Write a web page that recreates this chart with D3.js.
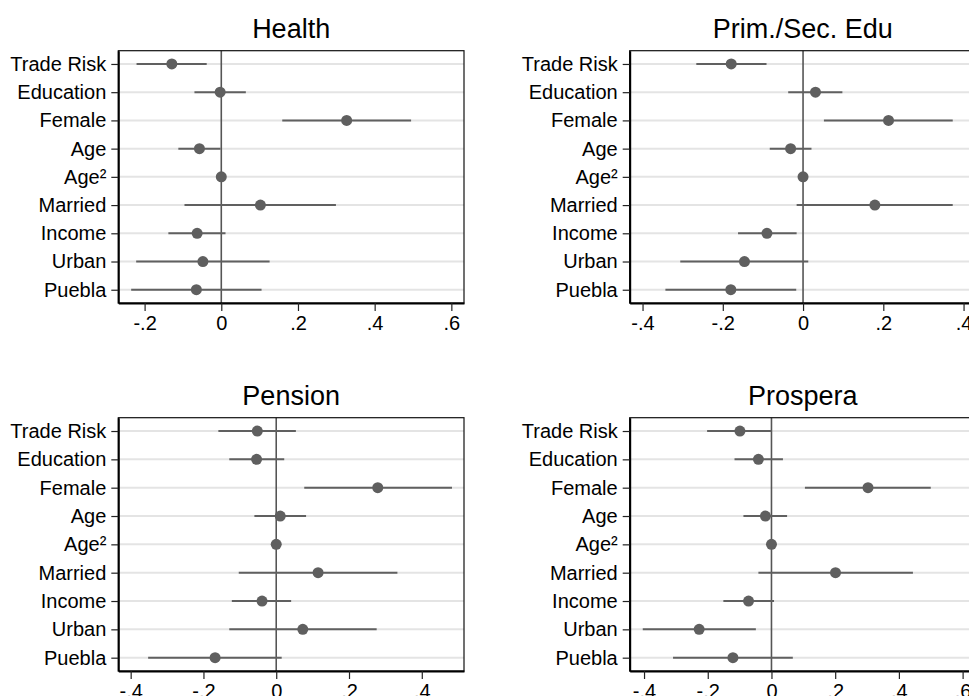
<!DOCTYPE html>
<html>
<head>
<meta charset="utf-8">
<script src="https://cdn.jsdelivr.net/npm/d3@7"></script>
<style>
  body { margin: 0; background: #fff; }
  text { font-family: "Liberation Sans", Arial, sans-serif; fill: #000; }
</style>
</head>
<body>
<div id="vis"></div>
<script>
// Variables (mismo orden en los 4 paneles)
const VARIABLES = ["Trade Risk", "Education", "Female", "Age", "Age²", "Married", "Income", "Urban", "Puebla"];

// Health
const HEALTH_COEF = [-0.129, -0.003, 0.327, -0.057, 0.000, 0.102, -0.063, -0.048, -0.065];
const HEALTH_LO   = [-0.221, -0.070, 0.159, -0.112, -0.002, -0.096, -0.138, -0.222, -0.235];
const HEALTH_HI   = [-0.038, 0.064, 0.495, -0.002, 0.002, 0.299, 0.011, 0.126, 0.105];

// Prim./Sec. Edu
const EDU_COEF = [-0.179, 0.031, 0.213, -0.031, 0.000, 0.179, -0.090, -0.146, -0.180];
const EDU_LO   = [-0.266, -0.037, 0.052, -0.083, -0.002, -0.016, -0.162, -0.306, -0.343];
const EDU_HI   = [-0.091, 0.098, 0.373, 0.021, 0.002, 0.373, -0.016, 0.013, -0.017];

// Pension
const PENSION_COEF = [-0.052, -0.054, 0.279, 0.011, 0.000, 0.115, -0.039, 0.073, -0.168];
const PENSION_LO   = [-0.159, -0.129, 0.077, -0.060, -0.002, -0.103, -0.122, -0.129, -0.352];
const PENSION_HI   = [0.054, 0.022, 0.483, 0.082, 0.002, 0.333, 0.041, 0.276, 0.015];

// Prospera
const PROSPERA_COEF = [-0.099, -0.041, 0.303, -0.019, 0.000, 0.201, -0.072, -0.227, -0.121];
const PROSPERA_LO   = [-0.202, -0.116, 0.105, -0.088, -0.002, -0.041, -0.151, -0.404, -0.309];
const PROSPERA_HI   = [0.000, 0.036, 0.500, 0.049, 0.002, 0.444, 0.008, -0.049, 0.067];

// Ticks del eje X
const TICKS_HEALTH = [-0.2, 0, 0.2, 0.4, 0.6];
const TICKS_EDU = [-0.4, -0.2, 0, 0.2, 0.4];
const TICKS_PENSION = [-0.4, -0.2, 0, 0.2, 0.4];
const TICKS_PROSPERA = [-0.4, -0.2, 0, 0.2, 0.4, 0.6];

const WIDTH = 969;
const HEIGHT = 696;

const SVG = d3.select("#vis").append("svg")
    .attr("width", WIDTH)
    .attr("height", HEIGHT);

// Cada panel: caja del grafico y dominio de x (el panel derecho queda cortado)
const PANELES = [
    { titulo: "Health", coef: HEALTH_COEF, lo: HEALTH_LO, hi: HEALTH_HI, ticks: TICKS_HEALTH,
      left: 118.3, right: 464, top: 50.7, bottom: 303, dominio: [-0.2686, 0.633] },
    { titulo: "Prim./Sec. Edu", coef: EDU_COEF, lo: EDU_LO, hi: EDU_HI, ticks: TICKS_EDU,
      left: 629.7, right: 976, top: 50.7, bottom: 303, dominio: [-0.432, 0.431] },
    { titulo: "Pension", coef: PENSION_COEF, lo: PENSION_LO, hi: PENSION_HI, ticks: TICKS_PENSION,
      left: 118.3, right: 464, top: 417.7, bottom: 671, dominio: [-0.434, 0.516] },
    { titulo: "Prospera", coef: PROSPERA_COEF, lo: PROSPERA_LO, hi: PROSPERA_HI, ticks: TICKS_PROSPERA,
      left: 629.7, right: 976, top: 417.7, bottom: 671, dominio: [-0.445, 0.642] },
];

// Formato tipo Stata: -.2, 0, .2 (guion normal, no signo menos)
const formatoTick = v => v === 0 ? "0" : v.toFixed(1).replace("0.", ".");

function crearPanel(p) {
    const g = SVG.append("g").attr("class", "panel");

    const escalaX = d3.scaleLinear().domain(p.dominio).range([p.left, p.right]);
    const escalaY = d3.scalePoint().domain(VARIABLES).range([p.top, p.bottom]).padding(0.47);

    const datos = VARIABLES.map((v, i) => ({ v: v, coef: p.coef[i], lo: p.lo[i], hi: p.hi[i] }));

    // Lineas de grilla horizontales
    g.selectAll("line.grid")
        .data(VARIABLES)
        .join("line")
        .attr("class", "grid")
        .attr("x1", p.left).attr("x2", p.right)
        .attr("y1", d => escalaY(d)).attr("y2", d => escalaY(d))
        .attr("stroke", "#e4e4e4")
        .attr("stroke-width", 2);

    // Linea vertical en 0
    g.append("line")
        .attr("x1", escalaX(0)).attr("x2", escalaX(0))
        .attr("y1", p.top).attr("y2", p.bottom)
        .attr("stroke", "#555")
        .attr("stroke-width", 1.6);

    // Intervalos de confianza
    g.selectAll("line.ci")
        .data(datos)
        .join("line")
        .attr("class", "ci")
        .attr("x1", d => escalaX(d.lo)).attr("x2", d => escalaX(d.hi))
        .attr("y1", d => escalaY(d.v)).attr("y2", d => escalaY(d.v))
        .attr("stroke", "#606060")
        .attr("stroke-width", 2);

    // Coeficientes
    g.selectAll("circle.coef")
        .data(datos)
        .join("circle")
        .attr("class", "coef")
        .attr("cx", d => escalaX(d.coef))
        .attr("cy", d => escalaY(d.v))
        .attr("r", 5.5)
        .attr("fill", "#5f5f5f");

    // Marco
    g.append("rect")
        .attr("x", p.left).attr("y", p.top)
        .attr("width", p.right - p.left).attr("height", p.bottom - p.top)
        .attr("fill", "none")
        .attr("stroke", "#111")
        .attr("stroke-width", 1.2);

    // Eje X
    const ejeX = g.append("g")
        .attr("transform", `translate(0,${p.bottom})`)
        .call(d3.axisBottom(escalaX).tickValues(p.ticks).tickFormat(formatoTick)
            .tickSizeInner(8).tickSizeOuter(0).tickPadding(5));
    ejeX.select(".domain").attr("stroke", "#000").attr("stroke-width", 2);
    ejeX.selectAll(".tick line").attr("stroke", "#222").attr("stroke-width", 1.2);
    ejeX.selectAll("text").attr("font-size", 20).attr("font-family", "Liberation Sans, Arial, sans-serif").attr("fill", "#000");

    // Eje Y
    const ejeY = g.append("g")
        .attr("transform", `translate(${p.left},0)`)
        .call(d3.axisLeft(escalaY).tickSizeInner(7).tickSizeOuter(0).tickPadding(5));
    ejeY.select(".domain").attr("stroke", "#000").attr("stroke-width", 2);
    ejeY.selectAll(".tick line").attr("stroke", "#222").attr("stroke-width", 1.2);
    ejeY.selectAll("text").attr("font-size", 20).attr("font-family", "Liberation Sans, Arial, sans-serif").attr("fill", "#000");

    // Titulo
    g.append("text")
        .attr("x", (p.left + p.right) / 2)
        .attr("y", p.top - 12.5)
        .attr("text-anchor", "middle")
        .attr("font-size", 27)
        .text(p.titulo);
}

PANELES.forEach(crearPanel);
</script>
</body>
</html>
